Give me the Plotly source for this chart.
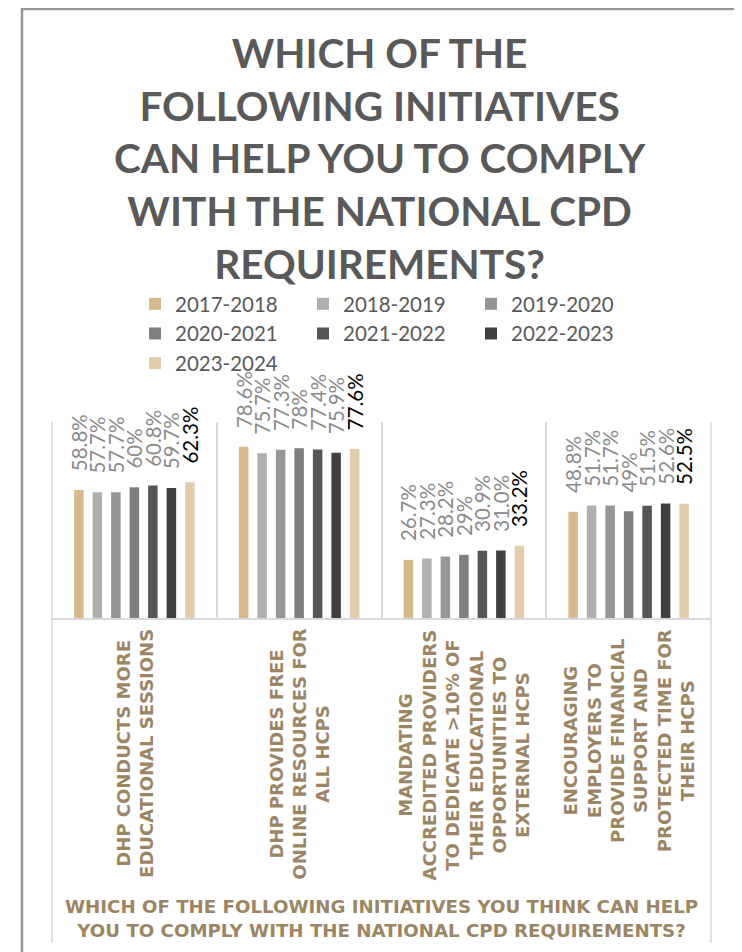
import plotly.graph_objects as go

categories = [
    "DHP conducts more educational sessions",
    "DHP provides free online resources for all HCPs",
    "Mandating accredited providers to dedicate >10% of their educational opportunities to external HCPs",
    "Encouraging employers to provide financial support and protected time for their HCPs",
]
category_labels = [
    "DHP CONDUCTS MORE<br>EDUCATIONAL SESSIONS",
    "DHP PROVIDES FREE<br>ONLINE RESOURCES FOR<br>ALL HCPS",
    "MANDATING<br>ACCREDITED PROVIDERS<br>TO DEDICATE &gt;10% OF<br>THEIR EDUCATIONAL<br>OPPORTUNITIES TO<br>EXTERNAL HCPS",
    "ENCOURAGING<br>EMPLOYERS TO<br>PROVIDE FINANCIAL<br>SUPPORT AND<br>PROTECTED TIME FOR<br>THEIR HCPS",
]

years = ["2017-2018", "2018-2019", "2019-2020", "2020-2021", "2021-2022", "2022-2023", "2023-2024"]
colors = ["#D6BA8C", "#B0B0B0", "#969696", "#7F7F7F", "#555555", "#404040", "#E2CCAE"]

v_2017 = [58.8, 78.6, 26.7, 48.8]
v_2018 = [57.7, 75.7, 27.3, 51.7]
v_2019 = [57.7, 77.3, 28.2, 51.7]
v_2020 = [60.0, 78.0, 29.0, 49.0]
v_2021 = [60.8, 77.4, 30.9, 51.5]
v_2022 = [59.7, 75.9, 31.0, 52.6]
v_2023 = [62.3, 77.6, 33.2, 52.5]

t_2017 = ["58.8%", "78.6%", "26.7%", "48.8%"]
t_2018 = ["57.7%", "75.7%", "27.3%", "51.7%"]
t_2019 = ["57.7%", "77.3%", "28.2%", "51.7%"]
t_2020 = ["60%", "78%", "29%", "49%"]
t_2021 = ["60.8%", "77.4%", "30.9%", "51.5%"]
t_2022 = ["59.7%", "75.9%", "31.0%", "52.6%"]
t_2023 = ["62.3%", "77.6%", "33.2%", "52.5%"]

title_text = "WHICH OF THE<br>FOLLOWING INITIATIVES<br>CAN HELP YOU TO COMPLY<br>WITH THE NATIONAL CPD<br>REQUIREMENTS?"
axis_title = "WHICH OF THE FOLLOWING INITIATIVES YOU THINK CAN HELP<br>YOU TO COMPLY WITH THE NATIONAL CPD REQUIREMENTS?"

# the page body has an 8px margin, so the figure is drawn 8px in from the window edge
OFF = 8
W, H = 742 - OFF, 952 - OFF
# plot area in window pixels: x 52..711, y 422..618
PX0, PX1, PY0, PY1 = 52, 711, 422, 618
L, R = PX0 - OFF, W - (PX1 - OFF)
T, B = PY0 - OFF, H - (PY1 - OFF)

TAN = "#9C8563"
GREY = "#595959"
LINE = "#D9D9D9"


def px_x(x):
    return (x - PX0) / (PX1 - PX0)


def px_y(y):
    return (PY1 - y) / (PY1 - PY0)


all_values = [v_2017, v_2018, v_2019, v_2020, v_2021, v_2022, v_2023]
all_texts = [t_2017, t_2018, t_2019, t_2020, t_2021, t_2022, t_2023]

fig = go.Figure()
for i, (year, vals, texts) in enumerate(zip(years, all_values, all_texts)):
    last = i == len(years) - 1
    fig.add_trace(go.Bar(
        name=year,
        x=categories,
        y=vals,
        marker=dict(color=colors[i], line=dict(width=0)),
        text=["\u00a0\u00a0\u00a0" + s for s in texts],
        textposition="outside",
        textangle=-90,
        constraintext="none",
        cliponaxis=False,
        textfont=dict(family="Lato", size=20.5, color="#000000" if last else "#8A8A8A"),
    ))

annotations = [
    dict(text=title_text, x=px_x(380), y=px_y(158), xref="paper", yref="paper",
         xanchor="center", yanchor="middle", showarrow=False, align="center",
         font=dict(family="Lato", size=40.5, color=GREY, weight=700)),
    dict(text=axis_title, x=px_x(381), y=px_y(918), xref="paper", yref="paper",
         xanchor="center", yanchor="middle", showarrow=False, align="center",
         font=dict(family="DejaVu Sans", size=18.2, color=TAN, weight=700)),
]
for cat, lab in zip(categories, category_labels):
    annotations.append(dict(
        text=lab, x=cat, xref="x", y=px_y(627), yref="paper",
        xanchor="center", yanchor="top", textangle=-90, showarrow=False,
        align="center", font=dict(family="DejaVu Sans", size=18, color=TAN, weight=700),
    ))

shapes = [
    # outer frame
    dict(type="rect", xref="paper", yref="paper",
         x0=px_x(22), x1=px_x(739.5), y0=px_y(9), y1=px_y(990),
         line=dict(color="#969696", width=2.5)),
    # box around the plot and its category labels
    dict(type="line", xref="paper", yref="paper", x0=0, x1=0,
         y0=px_y(422), y1=px_y(943), line=dict(color=LINE, width=1.5)),
    dict(type="line", xref="paper", yref="paper", x0=1, x1=1,
         y0=px_y(422), y1=px_y(943), line=dict(color=LINE, width=1.5)),
]

fig.update_layout(
    width=W,
    height=H,
    margin=dict(l=L, r=R, t=T, b=B, autoexpand=False),
    paper_bgcolor="white",
    plot_bgcolor="white",
    barmode="group",
    bargap=0.214,
    bargroupgap=0.486,
    showlegend=True,
    legend=dict(
        orientation="h",
        x=px_x(135), xanchor="left",
        y=px_y(284), yanchor="top",
        entrywidth=123,
        bgcolor="rgba(0,0,0,0)",
        font=dict(family="Lato", size=20.5, color=GREY),
        itemclick=False,
        traceorder="normal",
    ),
    xaxis=dict(
        showticklabels=False,
        ticks="",
        tickson="boundaries",
        showgrid=True,
        gridcolor=LINE,
        gridwidth=1.5,
        showline=True,
        linecolor=LINE,
        linewidth=2,
        fixedrange=True,
    ),
    yaxis=dict(
        range=[0, 90],
        visible=False,
        showgrid=False,
        zeroline=False,
        fixedrange=True,
    ),
    annotations=annotations,
    shapes=shapes,
)

fig.write_html("out.html")
